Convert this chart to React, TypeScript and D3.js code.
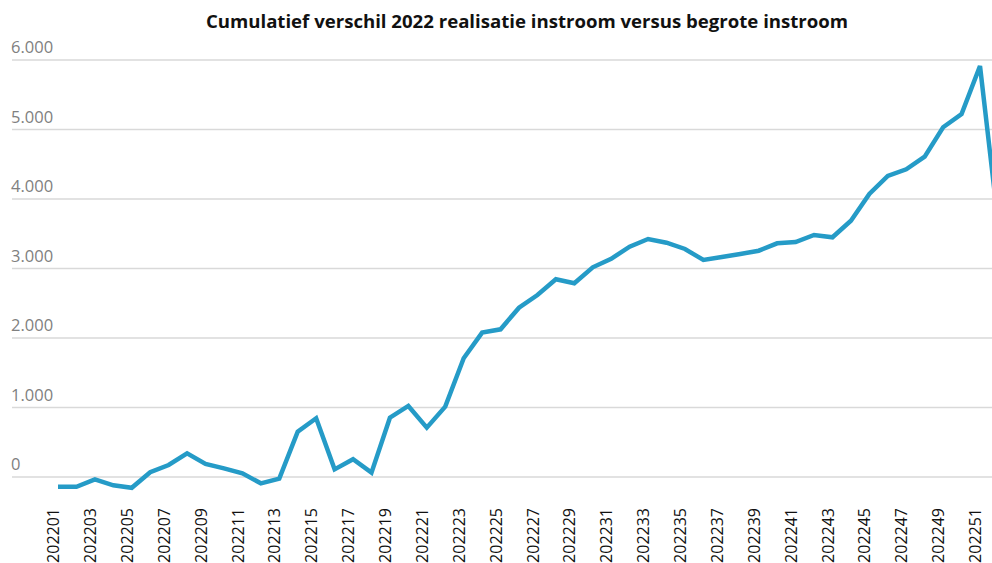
import * as d3 from 'd3';
import React, { useEffect, useRef } from 'react';

// weeks 2022 (yyyyww)
const weeks = [
	'202201', '202202', '202203', '202204', '202205', '202206', '202207', '202208', '202209', '202210',
	'202211', '202212', '202213', '202214', '202215', '202216', '202217', '202218', '202219', '202220',
	'202221', '202222', '202223', '202224', '202225', '202226', '202227', '202228', '202229', '202230',
	'202231', '202232', '202233', '202234', '202235', '202236', '202237', '202238', '202239', '202240',
	'202241', '202242', '202243', '202244', '202245', '202246', '202247', '202248', '202249', '202250',
	'202251', '202252'
];

// cumulatief verschil realisatie - begroting
const cumulatiefVerschil = [
	-140, -140, -35, -120, -155, 68, 173, 340, 187, 125,
	53, -91, -24, 652, 845, 110, 255, 62, 853, 1022,
	710, 1012, 1708, 2077, 2125, 2436, 2619, 2845, 2787, 3017,
	3140, 3314, 3424, 3371, 3281, 3122, 3165, 3209, 3256, 3362,
	3381, 3482, 3449, 3688, 4072, 4331, 4427, 4609, 5032, 5223,
	5914, 3620
];

const yTicks = [0, 1000, 2000, 3000, 4000, 5000, 6000];
const title = 'Cumulatief verschil 2022 realisatie instroom versus begrote instroom';

const nl = d3.formatLocale({ decimal: ',', thousands: '.', grouping: [3], currency: ['€', ''] });
const fmt = nl.format(',d');

const width = 992;
const height = 563;

export default function App() {
	const ref = useRef<SVGSVGElement>(null);

	useEffect(() => {
		const svg = d3.select(ref.current);
		svg.selectAll('*').remove();

		const x = d3.scalePoint<string>()
			.domain(weeks)
			.range([58, 58 + 18.44 * (weeks.length - 1)]);

		const y = d3.scaleLinear()
			.domain([0, 6000])
			.range([477, 60]);

		// titel
		svg.append('text')
			.attr('x', 527)
			.attr('y', 28)
			.attr('text-anchor', 'middle')
			.attr('font-weight', 700)
			.attr('font-size', 18.6)
			.attr('fill', '#111')
			.text(title);

		// rasterlijnen + labels
		const grid = svg.append('g');
		grid.selectAll('line')
			.data(yTicks)
			.join('line')
			.attr('x1', 12)
			.attr('x2', width + 20)
			.attr('y1', d => y(d))
			.attr('y2', d => y(d))
			.attr('stroke', '#d9d9d9')
			.attr('stroke-width', 1.3);

		grid.selectAll('text')
			.data(yTicks)
			.join('text')
			.attr('x', 11)
			.attr('y', d => y(d) - 7)
			.attr('font-size', 16.5)
			.attr('fill', '#808080')
			.text(d => fmt(d));

		// lijn
		const line = d3.line<number>()
			.x((d, i) => x(weeks[i]) as number)
			.y(d => y(d));

		svg.append('path')
			.attr('d', line(cumulatiefVerschil))
			.attr('fill', 'none')
			.attr('stroke', '#259bc7')
			.attr('stroke-width', 4.5)
			.attr('stroke-linejoin', 'miter')
			.attr('stroke-miterlimit', 2);

		// x-as labels, om de week
		svg.append('g')
			.selectAll('text')
			.data(weeks.filter((w, i) => i % 2 === 0))
			.join('text')
			.attr('transform', d => `translate(${(x(d) as number) - 4.5},508) rotate(-90)`)
			.attr('text-anchor', 'end')
			.attr('dy', '0.35em')
			.attr('font-size', 16)
			.attr('fill', '#111')
			.text(d => d);
	}, []);

	return (
		<div style={{ position: 'fixed', left: 0, top: 0, width, height, overflow: 'hidden', background: '#fff' }}>
			<svg
				ref={ref}
				width={width}
				height={height}
				style={{ display: 'block', fontFamily: '"Open Sans", sans-serif' }}
			/>
		</div>
	);
}
